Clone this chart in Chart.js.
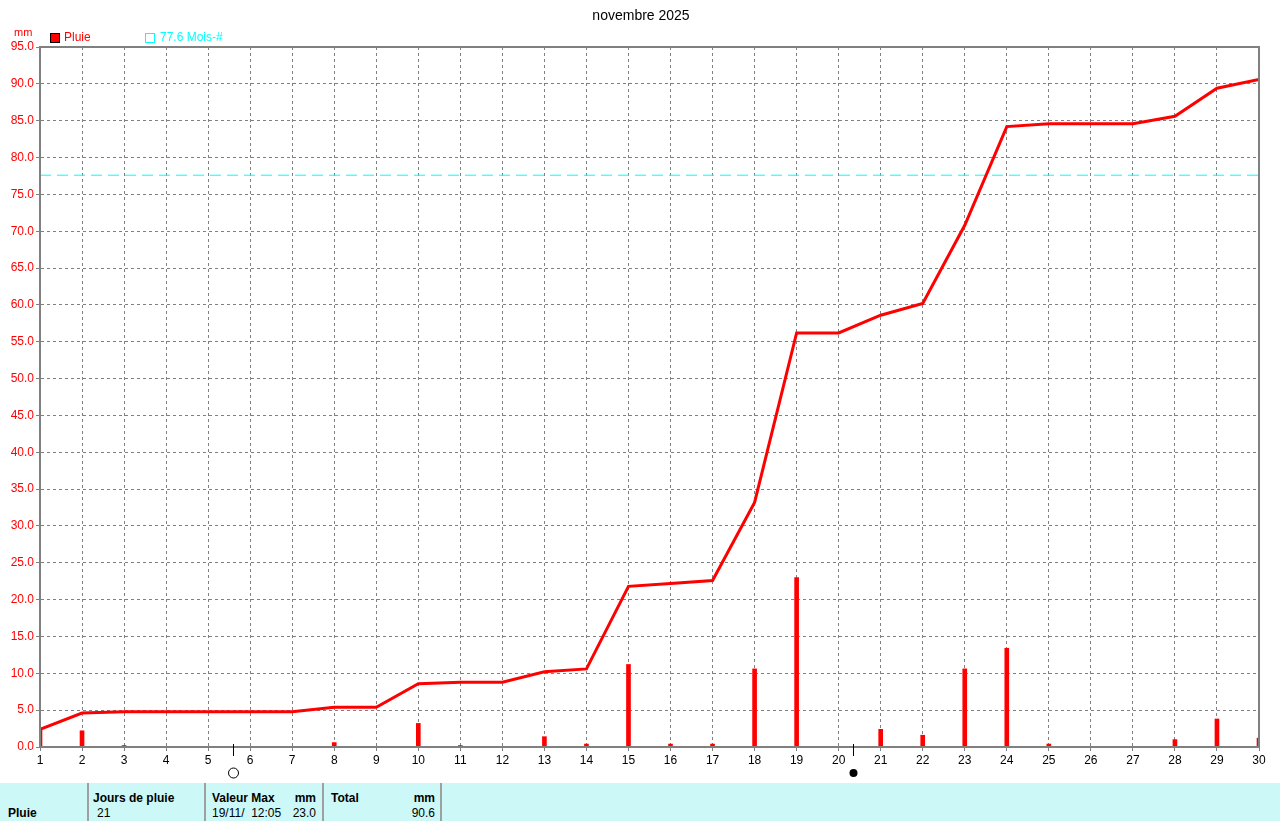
<!DOCTYPE html>
<html>
<head>
<meta charset="utf-8">
<script src="https://cdn.jsdelivr.net/npm/chart.js@4/dist/chart.umd.min.js"></script>
<style>
  body { margin: 0; background: #fff; font-family: "Liberation Sans", Arial, sans-serif; }
  #wrap { position: relative; width: 1280px; height: 821px; overflow: hidden; }
  #stats { position: absolute; left: 0; top: 783px; width: 1280px; height: 38px; background: #ccf8f8; font-size: 12px; color: #000; }
  #stats div { position: absolute; white-space: pre; }
  #stats .sep { top: 0; width: 2px; height: 38px; background: #a0a0a0; }
  #stats b { font-weight: bold; }
</style>
</head>
<body>
<div id="wrap">
  <canvas id="c" width="1280" height="783"></canvas>
  <div id="stats">
    <div class="sep" style="left:87px"></div>
    <div class="sep" style="left:204px"></div>
    <div class="sep" style="left:322px"></div>
    <div class="sep" style="left:440px"></div>
    <div style="left:8px;top:23px"><b>Pluie</b></div>
    <div style="left:93px;top:8px"><b>Jours de pluie</b></div>
    <div style="left:97px;top:23px">21</div>
    <div style="left:212px;top:8px"><b>Valeur Max</b></div>
    <div style="left:290px;top:8px;width:26px;text-align:right"><b>mm</b></div>
    <div style="left:212px;top:23px">19/11/  12:05</div>
    <div style="left:280px;top:23px;width:36px;text-align:right">23.0</div>
    <div style="left:331px;top:8px"><b>Total</b></div>
    <div style="left:405px;top:8px;width:30px;text-align:right"><b>mm</b></div>
    <div style="left:395px;top:23px;width:40px;text-align:right">90.6</div>
  </div>
</div>
<script>
// days of the month
var days = [1,2,3,4,5,6,7,8,9,10,11,12,13,14,15,16,17,18,19,20,21,22,23,24,25,26,27,28,29,30];
// daily rain (mm)
var dailyRain = [2.4,2.2,0.2,0,0,0,0,0.6,0,3.2,0.2,0,1.4,0.4,11.2,0.4,0.4,10.6,23.0,0,2.4,1.6,10.6,13.4,0.4,0,0,1.0,3.8,1.2];
// cumulated rain (mm)
var cumulRain = [2.4,4.6,4.8,4.8,4.8,4.8,4.8,5.4,5.4,8.6,8.8,8.8,10.2,10.6,21.8,22.2,22.6,33.2,56.2,56.2,58.6,60.2,70.8,84.2,84.6,84.6,84.6,85.6,89.4,90.6];
var monthNormal = 77.6;
// moon phases: [day position, full?]
var moonPhases = [[5.6, false], [20.35, true]];

var red = "#ff0000";
var grey = "#808080";
var cyan = "#00ffff";

var barData = days.map(function (d, i) { return { x: d, y: dailyRain[i] }; });
var lineData = days.map(function (d, i) { return { x: d, y: cumulRain[i] }; });
var normalData = [{ x: days[0], y: monthNormal }, { x: days[days.length - 1], y: monthNormal }];

var decorations = {
    id: 'decorations',
    afterDraw: function (chart) {
        var ctx = chart.ctx;
        var a = chart.chartArea;
        var xs = chart.scales.x;
        ctx.save();
        // frame
        ctx.strokeStyle = grey;
        ctx.lineWidth = 2;
        ctx.strokeRect(a.left, a.top, a.right - a.left, a.bottom - a.top);
        // title
        ctx.fillStyle = "#000";
        ctx.font = "14px 'Liberation Sans', Arial, sans-serif";
        ctx.textAlign = "center";
        ctx.textBaseline = "middle";
        ctx.fillText("novembre 2025", 641, 16);
        // unit
        ctx.fillStyle = red;
        ctx.font = "11px 'Liberation Sans', Arial, sans-serif";
        ctx.textAlign = "left";
        ctx.fillText("mm", 14, 33);
        // legend
        ctx.font = "12px 'Liberation Sans', Arial, sans-serif";
        ctx.fillStyle = red;
        ctx.fillRect(50, 33, 9, 9);
        ctx.strokeStyle = "#000";
        ctx.lineWidth = 1;
        ctx.strokeRect(50.5, 33.5, 9, 9);
        ctx.fillText("Pluie", 64, 38);
        ctx.strokeStyle = cyan;
        ctx.strokeRect(145.5, 33.5, 9, 9);
        ctx.fillStyle = cyan;
        ctx.fillText("77.6 Mois-#", 160, 38);
        // moon phases
        ctx.strokeStyle = "#000";
        ctx.fillStyle = "#000";
        moonPhases.forEach(function (m) {
            var px = Math.round(xs.getPixelForValue(m[0])) + 0.5;
            ctx.beginPath();
            ctx.moveTo(px, a.bottom - 3);
            ctx.lineTo(px, a.bottom + 9);
            ctx.stroke();
            ctx.beginPath();
            ctx.arc(px, a.bottom + 26, m[1] ? 4 : 5, 0, Math.PI * 2);
            if (m[1]) ctx.fill(); else ctx.stroke();
        });
        ctx.restore();
    }
};

new Chart(document.getElementById('c'), {
    type: 'bar',
    data: {
        datasets: [
            {
                type: 'line',
                data: normalData,
                borderColor: cyan,
                borderWidth: 1,
                borderDash: [11, 6],
                pointRadius: 0,
                order: 1
            },
            {
                type: 'line',
                data: lineData,
                borderColor: red,
                borderWidth: 3,
                pointRadius: 0,
                tension: 0,
                order: 0
            },
            {
                type: 'bar',
                data: barData,
                backgroundColor: red,
                barThickness: 4,
                order: 2
            }
        ]
    },
    options: {
        responsive: false,
        animation: false,
        layout: { padding: { top: 47, right: 21, bottom: 0, left: 0 } },
        plugins: { legend: { display: false }, tooltip: { enabled: false }, title: { display: false } },
        scales: {
            x: {
                type: 'linear',
                min: 1,
                max: 30,
                offset: false,
                afterFit: function (s) { s.height = 36; },
                ticks: { stepSize: 1, color: "#000", font: { size: 12, family: "'Liberation Sans', Arial, sans-serif" }, padding: 2 },
                grid: { offset: false, color: grey, tickColor: grey, tickLength: 4 },
                border: { color: grey, width: 2, dash: [3, 3] }
            },
            y: {
                min: 0,
                max: 95,
                afterFit: function (s) { s.width = 40; },
                ticks: {
                    stepSize: 5,
                    color: red,
                    padding: 2,
                    font: { size: 12, family: "'Liberation Sans', Arial, sans-serif" },
                    callback: function (v) { return v.toFixed(1); }
                },
                grid: { color: grey, tickColor: grey, tickLength: 4 },
                border: { color: grey, width: 2, dash: [3, 3] }
            }
        }
    },
    plugins: [decorations]
});
</script>
</body>
</html>
